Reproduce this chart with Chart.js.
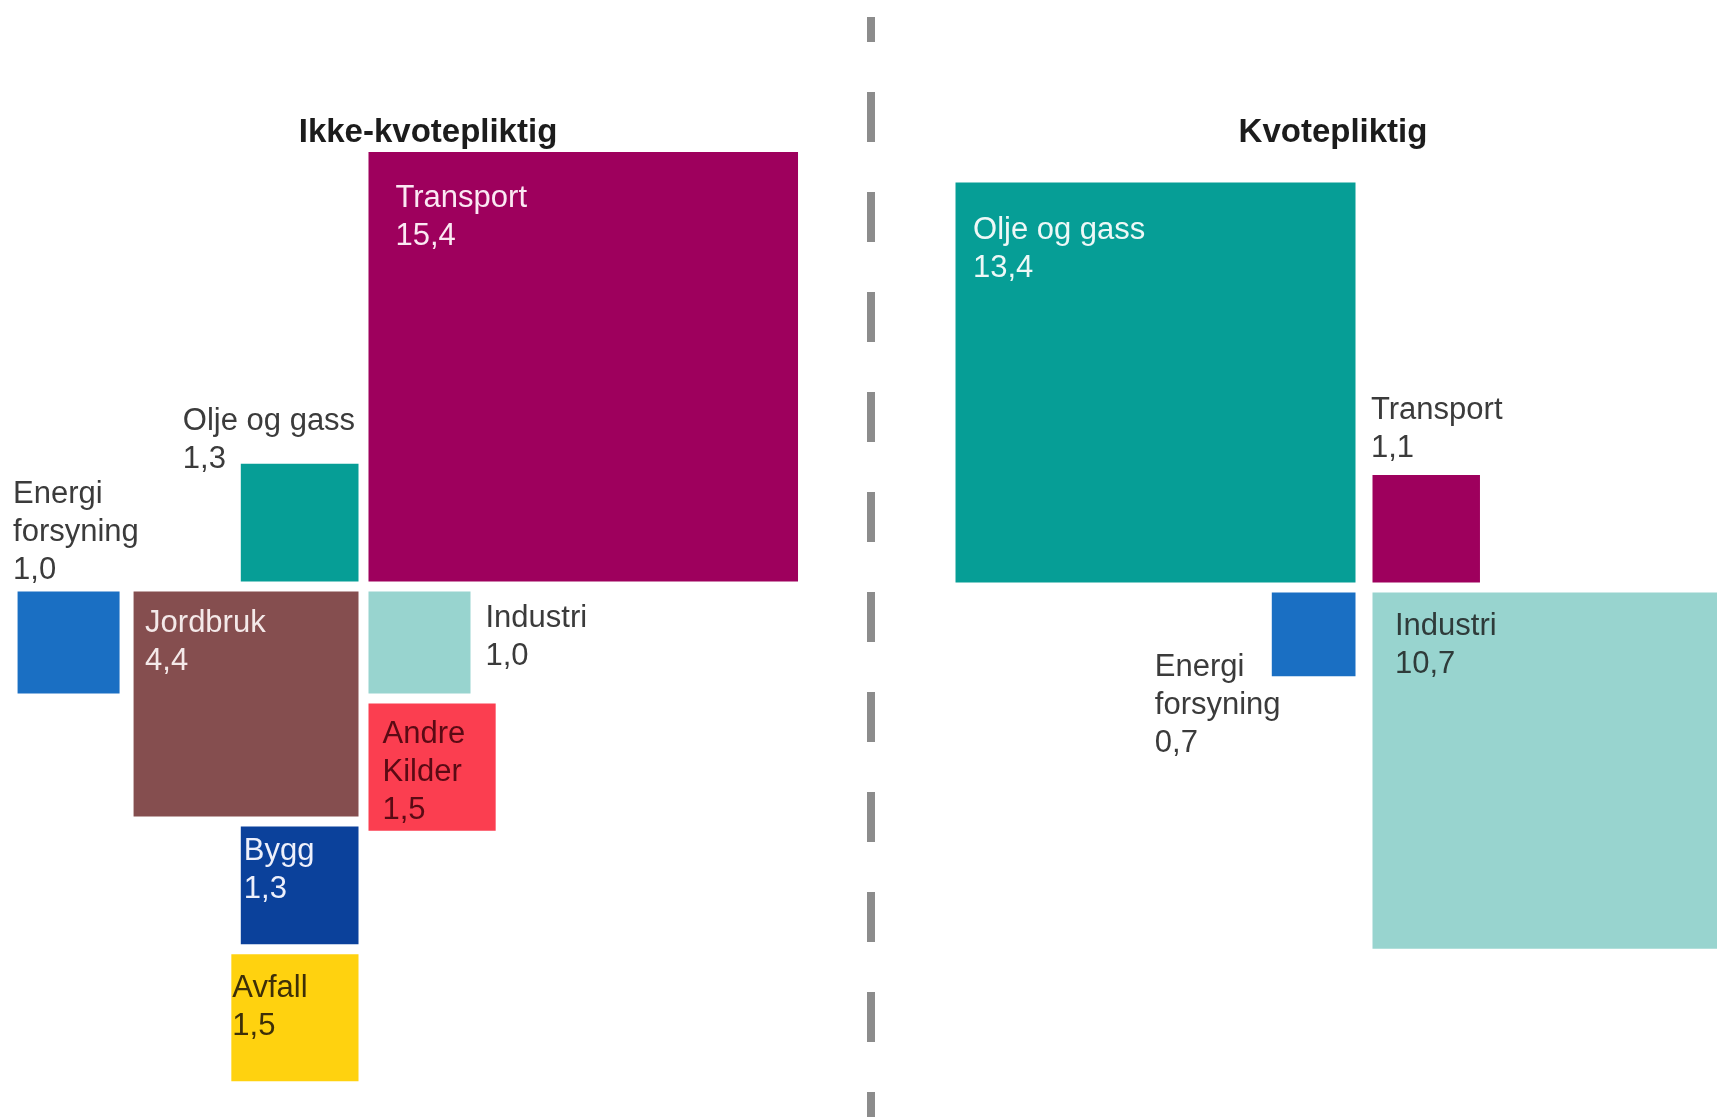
<!DOCTYPE html>
<html>
<head>
<meta charset="utf-8">
<script src="https://cdn.jsdelivr.net/npm/chart.js@4.4.1/dist/chart.umd.min.js"></script>
<style>
  html, body { margin: 0; padding: 0; background: #ffffff; }
  #wrap { width: 1717px; height: 1117px; }
</style>
</head>
<body>
<div id="wrap"><canvas id="c" width="1717" height="1117"></canvas></div>
<script>
// ---------------- DATA ----------------
const groupTitles = ['Ikke-kvotepliktig', 'Kvotepliktig'];

const leftSectors = ['Transport', 'Olje og gass', 'Energi\nforsyning', 'Jordbruk', 'Industri', 'Andre\nKilder', 'Bygg', 'Avfall'];
const leftValues  = [15.4, 1.3, 1.0, 4.4, 1.0, 1.5, 1.3, 1.5];

const rightSectors = ['Olje og gass', 'Transport', 'Energi\nforsyning', 'Industri'];
const rightValues  = [13.4, 1.1, 0.7, 10.7];

// ---------------- STYLE / LAYOUT ----------------
const W = 1717, H = 1117;
const K = 112;                 // pixels per unit of sqrt(value) – sets the scale extents
const INSET = 5;               // white margin inside each cell, px
const LINE_H = 38;             // label line height, px
const FONT = '31px "Liberation Sans", Arial, sans-serif';
const TITLE_FONT = 'bold 33px "Liberation Sans", Arial, sans-serif';

const sectorColors = {
  'Transport': '#9e005d',
  'Olje og gass': '#069e96',
  'Energi\nforsyning': '#1a6fc3',
  'Jordbruk': '#854e4f',
  'Industri': '#98d4cf',
  'Andre\nKilder': '#fb3e50',
  'Bygg': '#0b419b',
  'Avfall': '#ffd20f'
};

// placement rules (relative to group centre or to another cell); gap in px
const leftPlacement = [
  { mode: 'ur' },
  { mode: 'ul' },
  { mode: 'leftOf', ref: 3, gap: 4 },
  { mode: 'dl' },
  { mode: 'dr' },
  { mode: 'below', ref: 4, align: 'left' },
  { mode: 'below', ref: 3, align: 'right' },
  { mode: 'below', ref: 6, align: 'right' }
];
const rightPlacement = [
  { mode: 'ul' },
  { mode: 'ur' },
  { mode: 'dl' },
  { mode: 'dr' }
];

// label offsets (px) from the drawn square's top-left corner to the first baseline
const leftLabelStyle = [
  { dx: 27,    dy: 55,    color: '#fbe8f3' },
  { dx: -58,   dy: -34,   color: '#3b3b3b' },
  { dx: -4.5,  dy: -88.5, color: '#3b3b3b' },
  { dx: 11.5,  dy: 40.5,  color: '#f4e9e9' },
  { dx: 117,   dy: 35.5,  color: '#3b3b3b' },
  { dx: 14,    dy: 39,    color: '#5a0a14' },
  { dx: 3,     dy: 34,    color: '#eef0fb' },
  { dx: 1,     dy: 43,    color: '#3d2f08' }
];
const rightLabelStyle = [
  { dx: 17.5,  dy: 56,    color: '#eef8f7' },
  { dx: -1.5,  dy: -56.5, color: '#3b3b3b' },
  { dx: -117,  dy: 83.5,  color: '#3b3b3b' },
  { dx: 22.5,  dy: 42.5,  color: '#2f3b3a' }
];

const groupCenters = [
  { x: 363.5 / K, y: 586.5 / K, gapX: 0 },
  { x: 1364 / K,  y: 587.5 / K, gapX: 7 }
];
const titlePos = [ { x: 428 / K, y: 142 / K }, { x: 1333 / K, y: 142 / K } ];
const dividerX = 871 / K;
const dividerTop = 17 / K;

// ---------------- GEOMETRY (cells, in units) ----------------
function layoutGroup(values, placement, c) {
  const boxes = [];
  const done = new Array(values.length).fill(false);
  const hx = c.gapX / 2 / K;
  let guard = 0;
  while (done.includes(false) && guard++ < 20) {
    values.forEach((v, i) => {
      if (done[i]) return;
      const p = placement[i];
      if (p.ref !== undefined && !done[p.ref]) return;
      const s = Math.sqrt(v);
      const g = (p.gap || 0) / K;
      let x0, y0;
      if (p.mode === 'ur') { x0 = c.x + hx; y0 = c.y - s; }
      else if (p.mode === 'ul') { x0 = c.x - hx - s; y0 = c.y - s; }
      else if (p.mode === 'dl') { x0 = c.x - hx - s; y0 = c.y; }
      else if (p.mode === 'dr') { x0 = c.x + hx; y0 = c.y; }
      else if (p.mode === 'below') {
        const r = boxes[p.ref];
        y0 = r.y0 + r.s + g;
        x0 = p.align === 'right' ? r.x0 + r.s - s : r.x0;
      } else if (p.mode === 'leftOf') {
        const r = boxes[p.ref];
        x0 = r.x0 - g - s;
        y0 = r.y0;
      }
      boxes[i] = { x0, y0, s };
      done[i] = true;
    });
  }
  return boxes;
}

const leftBoxes = layoutGroup(leftValues, leftPlacement, groupCenters[0]);
const rightBoxes = layoutGroup(rightValues, rightPlacement, groupCenters[1]);

function toPoints(boxes, names, values) {
  return boxes.map((b, i) => ({ x: b.x0 + b.s / 2, y: b.y0 + b.s / 2, s: b.s, name: names[i], value: values[i] }));
}

function sideRadius(ctx) {
  const sx = ctx.chart.scales.x;
  if (!sx || !ctx.raw) return 0;
  const px = sx.getPixelForValue(ctx.raw.s) - sx.getPixelForValue(0) - 2 * INSET;
  return Math.max(0, px) / Math.SQRT2;
}

const fmt = v => v.toFixed(1).replace('.', ',');

// ---------------- PLUGINS ----------------
const annotate = {
  id: 'annotate',
  beforeDatasetsDraw(chart) {
    const c = chart.ctx, sx = chart.scales.x, sy = chart.scales.y;
    c.save();
    c.strokeStyle = '#8c8c8c';
    c.lineWidth = 8;
    c.setLineDash([50, 50]);
    c.lineDashOffset = 25;
    const x = sx.getPixelForValue(dividerX);
    c.beginPath();
    c.moveTo(x, sy.getPixelForValue(dividerTop));
    c.lineTo(x, sy.getPixelForValue(sy.max));
    c.stroke();
    c.restore();
  },
  afterDatasetsDraw(chart) {
    const c = chart.ctx, sx = chart.scales.x, sy = chart.scales.y;
    c.save();
    c.font = TITLE_FONT;
    c.fillStyle = '#1c1c1c';
    c.textAlign = 'center';
    c.textBaseline = 'alphabetic';
    groupTitles.forEach((t, i) => {
      c.fillText(t, sx.getPixelForValue(titlePos[i].x), sy.getPixelForValue(titlePos[i].y));
    });
    c.font = FONT;
    c.textAlign = 'left';
    const sets = [
      [leftBoxes, leftSectors, leftValues, leftLabelStyle],
      [rightBoxes, rightSectors, rightValues, rightLabelStyle]
    ];
    sets.forEach(([boxes, names, values, styles]) => {
      boxes.forEach((b, i) => {
        const px = sx.getPixelForValue(b.x0) + INSET, py = sy.getPixelForValue(b.y0) + INSET;
        const st = styles[i];
        const lines = names[i].split('\n').concat([fmt(values[i])]);
        c.fillStyle = st.color;
        lines.forEach((ln, j) => c.fillText(ln, px + st.dx, py + st.dy + j * LINE_H));
      });
    });
    c.restore();
  }
};

// ---------------- CHART ----------------
function makeDataset(label, boxes, names, values) {
  return {
    label,
    data: toPoints(boxes, names, values),
    pointStyle: 'rect',
    pointRadius: sideRadius,
    pointHoverRadius: sideRadius,
    pointBorderWidth: 0,
    backgroundColor: names.map(n => sectorColors[n]),
    pointBackgroundColor: names.map(n => sectorColors[n]),
    showLine: false,
    clip: false
  };
}

new Chart(document.getElementById('c').getContext('2d'), {
  type: 'scatter',
  data: {
    datasets: [
      makeDataset(groupTitles[0], leftBoxes, leftSectors, leftValues),
      makeDataset(groupTitles[1], rightBoxes, rightSectors, rightValues)
    ]
  },
  options: {
    responsive: false,
    animation: false,
    devicePixelRatio: 1,
    events: [],
    layout: { padding: 0 },
    scales: {
      x: { type: 'linear', display: false, min: 0, max: W / K },
      y: { type: 'linear', display: false, min: 0, max: H / K, reverse: true }
    },
    plugins: { legend: { display: false }, tooltip: { enabled: false } }
  },
  plugins: [annotate]
});
</script>
</body>
</html>
